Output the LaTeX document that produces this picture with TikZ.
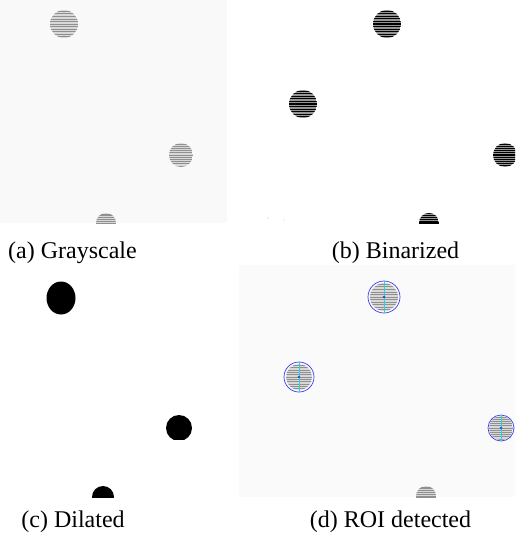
\documentclass[tikz,border=0pt]{standalone}
\usepackage{fontspec}
\setmainfont{Liberation Serif}
\definecolor{panelgray}{HTML}{F9F9F9}
\definecolor{panelgrayd}{HTML}{FAFAFB}
\definecolor{dotbg}{HTML}{D8D8D8}
\definecolor{dotline}{HTML}{909090}
\definecolor{binbg}{HTML}{969696}
\definecolor{roiblue}{HTML}{3A3AF0}
\definecolor{roicyan}{HTML}{20D8D8}
\newcommand\mygraydisc[3]{%
  \begin{scope}
    \clip (#1,#2) circle (#3);
    \fill[dotbg] (#1-#3,#2-#3) rectangle (#1+#3,#2+#3);
    \foreach \k in {-5,...,5}
      \draw[dotline, line width=0.8pt] (#1-#3,{#2+\k*#3/5.5}) -- (#1+#3,{#2+\k*#3/5.5});
  \end{scope}}
\newcommand\mybindisc[3]{%
  \begin{scope}
    \clip (#1,#2) circle (#3);
    \fill[binbg] (#1-#3,#2-#3) rectangle (#1+#3,#2+#3);
    \foreach \k in {-5,...,5}
      \draw[black, line width=1.1pt] (#1-#3,{#2+\k*#3/5.5}) -- (#1+#3,{#2+\k*#3/5.5});
  \end{scope}}
\begin{document}
\begin{tikzpicture}[x=1pt,y=-1pt,
  captext/.style={anchor=base, font=\fontsize{24}{28}\selectfont, inner sep=0pt},
  roiring/.style={draw=roiblue, line width=0.7pt},
  roiaxis/.style={draw=roicyan, line width=0.9pt}]
\useasboundingbox (0,0) rectangle (515,533);
\fill[white] (0,0) rectangle (515,533);

% (a) Grayscale
\fill[panelgray] (0,0) rectangle (227,223);
\begin{scope}
  \clip (0,0) rectangle (227,223);
  \mygraydisc{64}{24}{14}
  \mygraydisc{181}{155}{12}
  \mygraydisc{106}{223}{10}
\end{scope}
\node[captext] (capa) at (72.5,258) {(a) Grayscale};

% (b) Binarized
\begin{scope}
  \clip (240,0) rectangle (515,223);
  \mybindisc{387}{24}{14}
  \mybindisc{303}{104}{14}
  \mybindisc{505}{155}{12}
  \mybindisc{429}{223}{10}
  \fill[gray!60] (268,218) circle (0.6);
  \fill[gray!40] (284,220) circle (0.6);
\end{scope}
\node[captext] (capb) at (395.5,258) {(b) Binarized};

% (c) Dilated
\begin{scope}
  \clip (0,265) rectangle (227,497);
  \fill[black] (61,298) ellipse [x radius=14.5, y radius=16.5];
  \begin{scope}
    \clip (150,400) rectangle (210,439);
    \fill[black] (179,428) circle (13);
  \end{scope}
  \fill[black] (103,497) circle (11);
\end{scope}
\node[captext] (capc) at (73,527.5) {(c) Dilated};

% (d) ROI detected
\fill[panelgrayd] (239,265) rectangle (515,497);
\begin{scope}
  \clip (239,265) rectangle (515,497);
  \mygraydisc{384}{297}{14}
  \mygraydisc{299}{377}{13}
  \mygraydisc{501}{428}{12}
  \mygraydisc{426}{496}{10}
  \draw[roiring] (384,297) circle (16);
  \draw[roiring] (299,377) circle (15);
  \draw[roiring] (501,428) circle (13);
  \draw[roiaxis] (384,281) -- (384,313);
  \draw[roiaxis] (299,362) -- (299,392);
  \draw[roiaxis] (501,415) -- (501,441);
  \fill[roiblue] (384,297) circle (1.3);
  \fill[roiblue] (299,377) circle (1.3);
  \fill[roiblue] (501,428) circle (1.3);
\end{scope}
\node[captext] (capd) at (390.5,527.5) {(d) ROI detected};
\end{tikzpicture}
\end{document}
